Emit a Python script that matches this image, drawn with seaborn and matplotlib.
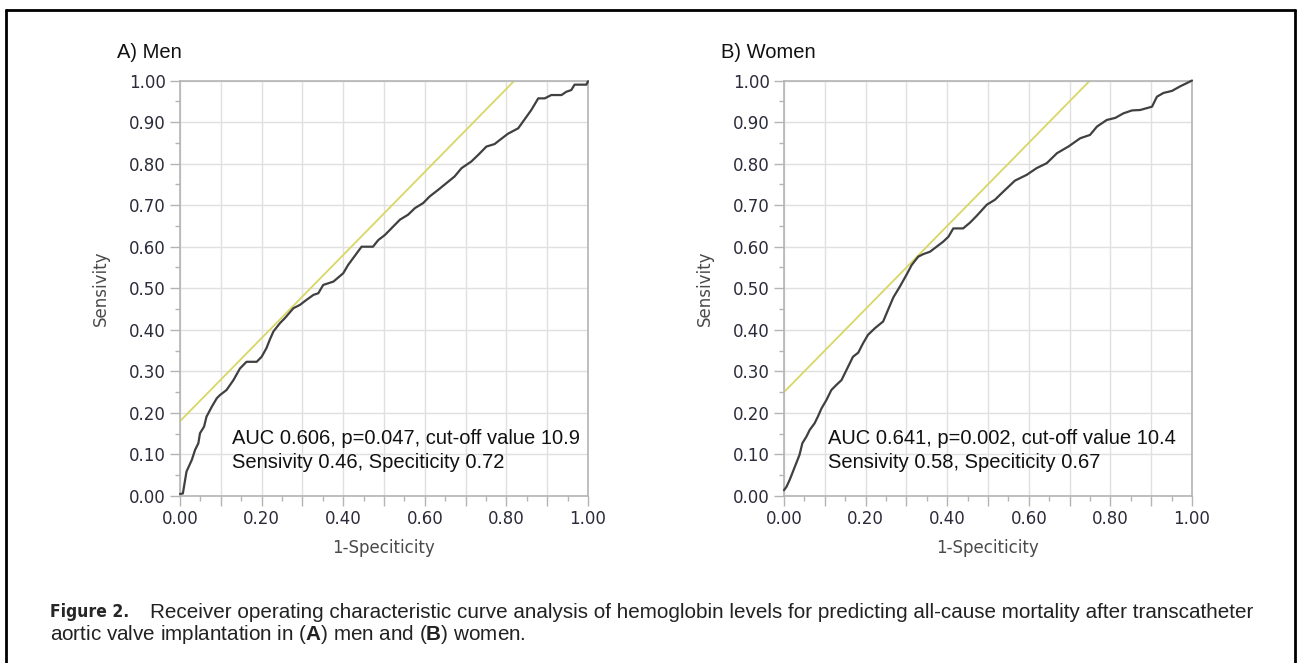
import numpy as np
import pandas as pd
import matplotlib
matplotlib.use("Agg")
import matplotlib.pyplot as plt
from matplotlib.ticker import MultipleLocator, FuncFormatter
from matplotlib.lines import Line2D
import seaborn as sns

# ROC curve points (1-specificity, sensitivity)
men_fpr = [0.0, 0.007, 0.016, 0.029, 0.037, 0.045, 0.049, 0.059, 0.065, 0.078, 0.090, 0.098,
           0.114, 0.131, 0.147, 0.163, 0.188, 0.200, 0.212, 0.220, 0.229, 0.245, 0.257, 0.278,
           0.294, 0.310, 0.327, 0.339, 0.351, 0.376, 0.400, 0.412, 0.424, 0.445, 0.473, 0.486,
           0.502, 0.522, 0.539, 0.559, 0.576, 0.596, 0.612, 0.633, 0.653, 0.673, 0.690, 0.714,
           0.731, 0.751, 0.771, 0.784, 0.804, 0.829, 0.845, 0.861, 0.878, 0.894, 0.910, 0.935,
           0.947, 0.959, 0.967, 0.996, 1.0]
men_tpr = [0.005, 0.006, 0.059, 0.087, 0.111, 0.127, 0.151, 0.167, 0.191, 0.215, 0.235, 0.243,
           0.255, 0.279, 0.307, 0.323, 0.323, 0.335, 0.356, 0.376, 0.396, 0.416, 0.428, 0.452,
           0.460, 0.472, 0.484, 0.488, 0.508, 0.516, 0.536, 0.556, 0.572, 0.600, 0.600, 0.616,
           0.628, 0.648, 0.665, 0.677, 0.693, 0.705, 0.721, 0.737, 0.753, 0.769, 0.789, 0.805,
           0.821, 0.841, 0.847, 0.857, 0.872, 0.885, 0.907, 0.929, 0.957, 0.957, 0.965, 0.965,
           0.973, 0.977, 0.990, 0.990, 0.998]

women_fpr = [0.0, 0.006, 0.014, 0.022, 0.030, 0.038, 0.045, 0.055, 0.063, 0.075, 0.083, 0.092,
             0.104, 0.116, 0.128, 0.141, 0.153, 0.169, 0.182, 0.194, 0.206, 0.223, 0.243, 0.255,
             0.268, 0.284, 0.300, 0.313, 0.329, 0.341, 0.358, 0.374, 0.390, 0.403, 0.415, 0.439,
             0.456, 0.472, 0.497, 0.517, 0.538, 0.566, 0.595, 0.619, 0.644, 0.669, 0.697, 0.726,
             0.750, 0.767, 0.791, 0.812, 0.832, 0.853, 0.873, 0.902, 0.914, 0.930, 0.951, 0.971,
             0.988, 1.0]
women_tpr = [0.014, 0.022, 0.039, 0.059, 0.079, 0.099, 0.127, 0.143, 0.159, 0.175, 0.191, 0.211,
             0.231, 0.255, 0.267, 0.279, 0.303, 0.335, 0.345, 0.368, 0.388, 0.404, 0.420, 0.448,
             0.478, 0.504, 0.532, 0.556, 0.576, 0.582, 0.588, 0.600, 0.612, 0.624, 0.644, 0.644,
             0.658, 0.674, 0.701, 0.713, 0.733, 0.759, 0.773, 0.789, 0.801, 0.825, 0.841, 0.861,
             0.869, 0.889, 0.905, 0.910, 0.921, 0.928, 0.929, 0.937, 0.961, 0.970, 0.975, 0.986,
             0.994, 1.0]

# cut-off sensitivity / specificity (defines the tangent line)
cut_sens = [0.46, 0.58]
cut_spec = [0.72, 0.67]

panel_titles = ["A) Men", "B) Women"]
notes = ["AUC 0.606, p=0.047, cut-off value 10.9\nSensivity 0.46, Speciticity 0.72",
         "AUC 0.641, p=0.002, cut-off value 10.4\nSensivity 0.58, Speciticity 0.67"]

sns.set_theme(style="white")
plt.rcParams["font.family"] = ["DejaVu Sans"]
plt.rcParams["mathtext.fontset"] = "custom"
plt.rcParams["mathtext.rm"] = "Liberation Sans"
plt.rcParams["mathtext.bf"] = "Liberation Sans:bold"

fig = plt.figure(figsize=(12.97, 6.63), dpi=100)
fig.patch.set_facecolor("white")

lefts = [180 / 1297, 784 / 1297]
note_x = [0.127, 0.108]
curves = [(men_fpr, men_tpr), (women_fpr, women_tpr)]

tick_col = "#2b2b3b"
for i in range(2):
    ax = fig.add_axes([lefts[i], 1 - 496 / 663, 408 / 1297, 415.5 / 663])
    df = pd.DataFrame({"fpr": curves[i][0], "tpr": curves[i][1]})
    # tangent line through the cut-off point, slope 1
    b = cut_sens[i] - (1 - cut_spec[i])
    lx = np.array([0.0, 1.0 - b])
    sns.lineplot(x=lx, y=lx + b, ax=ax, color="#d8d765", lw=1.3, zorder=2)
    sns.lineplot(data=df, x="fpr", y="tpr", ax=ax, sort=False, color="#404040", lw=1.6,
                 zorder=3, clip_on=False)

    ax.set_xlim(0, 1)
    ax.set_ylim(0, 1)
    ax.xaxis.set_major_locator(MultipleLocator(0.1))
    ax.xaxis.set_minor_locator(MultipleLocator(0.05))
    ax.yaxis.set_major_locator(MultipleLocator(0.1))
    ax.yaxis.set_minor_locator(MultipleLocator(0.05))
    ax.xaxis.set_major_formatter(FuncFormatter(
        lambda v, p: f"{v:.2f}" if round(v * 10) % 2 == 0 else ""))
    ax.yaxis.set_major_formatter(FuncFormatter(lambda v, p: f"{v:.2f}"))
    ax.grid(True, which="major", color="#e0e0e0", lw=1)
    ax.set_axisbelow(True)
    for s in ax.spines.values():
        s.set_color("#b4b4b4")
        s.set_linewidth(1.2)
    ax.tick_params(which="major", direction="out", length=7, width=1, color="#b4b4b4",
                   labelsize=12, labelcolor=tick_col, pad=3, left=True, bottom=True)
    ax.tick_params(which="minor", direction="out", length=3.5, width=1, color="#b4b4b4",
                   left=True, bottom=True)
    ax.set_xlabel("1-Speciticity", fontsize=12, color="#4a4a4a", labelpad=8)
    ax.set_ylabel("Sensivity", fontsize=12, color="#4a4a4a", labelpad=14)
    ax.text(note_x[i], 0.11, notes[i], transform=ax.transAxes,
            family="Liberation Sans", fontsize=14.5, color="#111111", va="center",
            linespacing=1.3)
    fig.text(lefts[i] - 63 / 1297, 1 - 53 / 663, panel_titles[i], family="Liberation Sans",
             fontsize=14.5, color="#111111", va="center")

# caption
fig.text(50 / 1297, 1 - 612 / 663, "Figure 2.", family="DejaVu Sans", stretch="condensed",
         weight="heavy", fontsize=12.5, va="center")
fig.text(150 / 1297, 1 - 612 / 663,
         "Receiver operating characteristic curve analysis of hemoglobin levels for predicting "
         "all-cause mortality after transcatheter",
         family="Liberation Sans", fontsize=14.9, color="#222222", va="center")
fig.text(50 / 1297, 1 - 634 / 663,
         r"aortic valve implantation in ($\mathbf{A}$) men and ($\mathbf{B}$) women.",
         family="Liberation Sans", fontsize=14.9, color="#222222", va="center")

# frame around the figure (left, top, right)
for xs, ys in [([6, 6], [663, 10]), ([6, 1295], [10, 10]), ([1295, 1295], [10, 663])]:
    fig.add_artist(Line2D([x / 1297 for x in xs], [1 - y / 663 for y in ys],
                          color="black", lw=2, transform=fig.transFigure))

fig.savefig("out.png", dpi=100, facecolor="white")
